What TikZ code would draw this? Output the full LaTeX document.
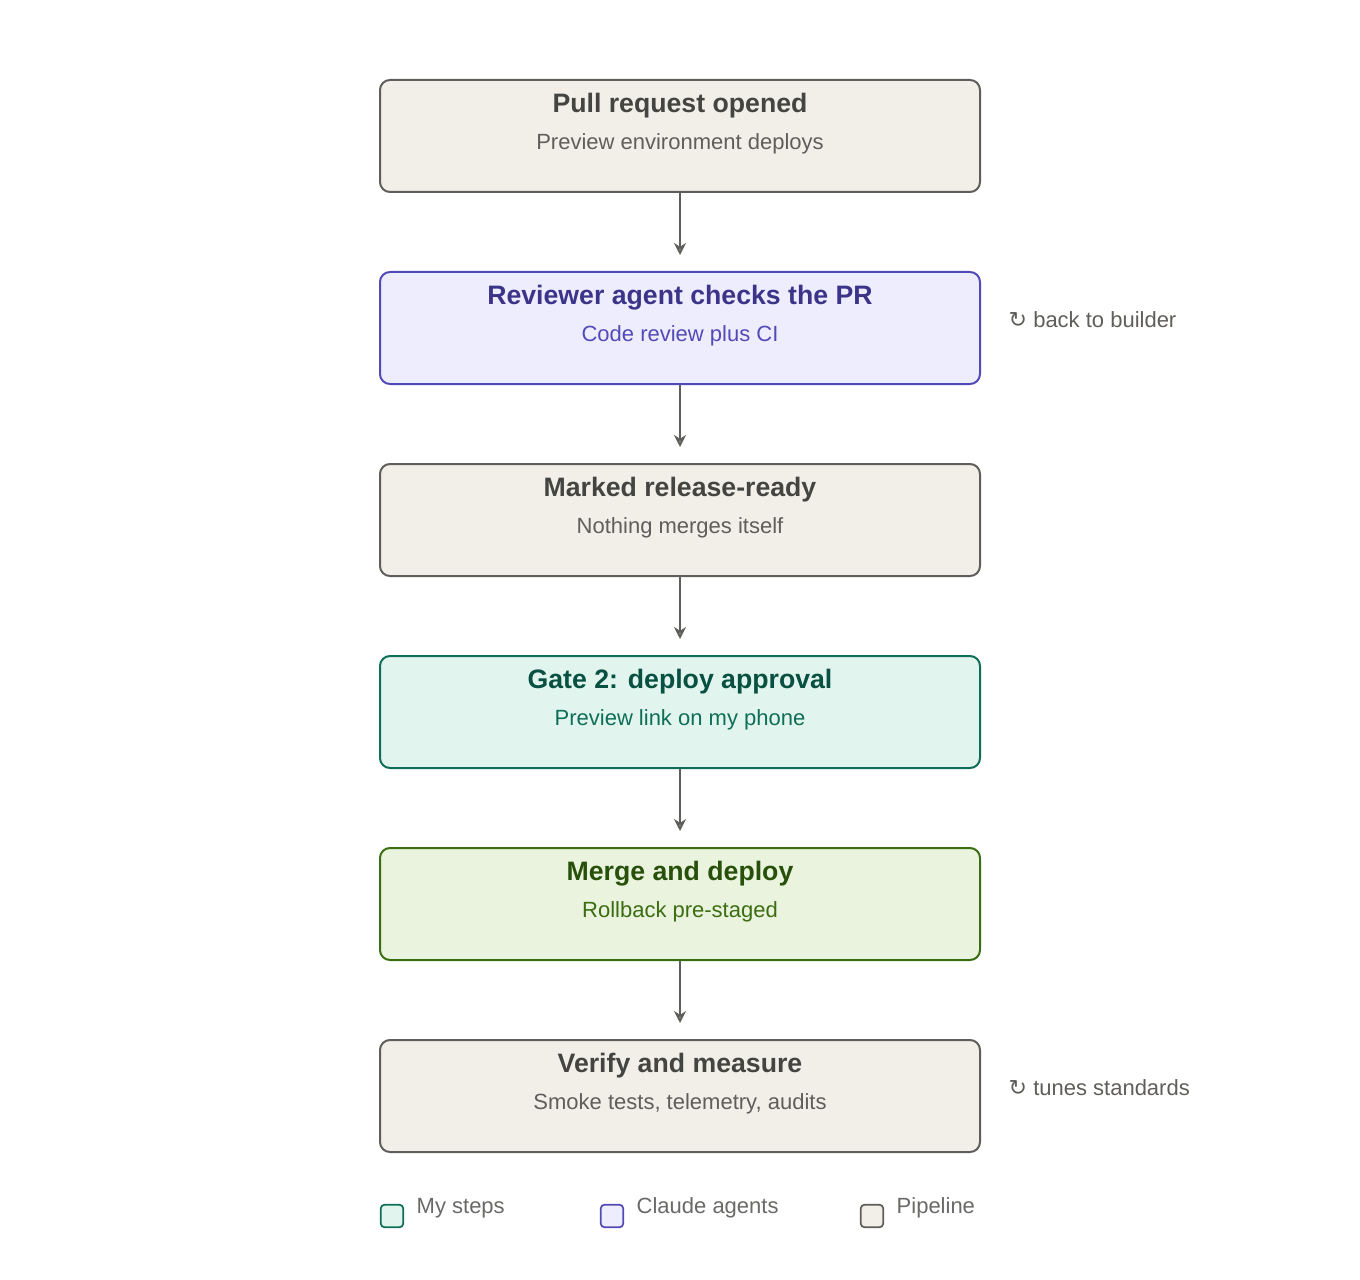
\documentclass[tikz,border=0pt]{standalone}
\usepackage{fontspec}
\setmainfont{Liberation Sans}
\newfontfamily\dej{DejaVu Sans}
\usetikzlibrary{arrows.meta}
\definecolor{pfill}{HTML}{F1EFE8}\definecolor{pline}{HTML}{5F5E5A}\definecolor{ptitle}{HTML}{444441}
\definecolor{vfill}{HTML}{EEEDFE}\definecolor{vline}{HTML}{534AB7}\definecolor{vtitle}{HTML}{3C3489}
\definecolor{tfill}{HTML}{E1F5EE}\definecolor{tline}{HTML}{0F6E56}\definecolor{ttitle}{HTML}{085041}
\definecolor{gfill}{HTML}{EAF3DE}\definecolor{gline}{HTML}{3B6D11}\definecolor{gtitle}{HTML}{27500A}
\begin{document}
\begin{tikzpicture}[x=0.75pt,y=-0.75pt,
  box/.style={draw=#1line,fill=#1fill,line width=1.5pt,rounded corners=7.5pt,minimum width=450pt,minimum height=84pt},
  ttl/.style={font=\fontsize{20}{24}\selectfont\bfseries,text=#1},
  sub/.style={font=\fontsize{16.5}{20}\selectfont,text=#1},
  arr/.style={draw=pline,line width=1.5pt,-{Stealth[length=9pt,width=9pt,open,fill=none]},shorten >=12pt},
  note/.style={font=\fontsize{16.5}{20}\selectfont,text=pline,anchor=west},
  leg/.style={draw=#1line,fill=#1fill,line width=1.3pt,rounded corners=3pt,minimum size=17pt,inner sep=0pt}]
\useasboundingbox (0,0) rectangle (1360,1280);
\foreach \n/\y/\c/\t/\s in {a/136/p/Pull request opened/Preview environment deploys,
  b/328/v/Reviewer agent checks the PR/Code review plus CI,
  c/520/p/Marked release-ready/Nothing merges itself,
  d/712/t/Gate 2: deploy approval/Preview link on my phone,
  e/904/g/Merge and deploy/Rollback pre-staged,
  f/1096/p/Verify and measure/{Smoke tests, telemetry, audits}}{
  \node[box=\c] (\n) at (680,\y) {};
  \node[ttl=\c title] (\n t) at (680,\y-30) {\t};
  \node[sub=\c line] (\n s) at (680,\y+8) {\s};
}
\foreach \u/\v in {a/b,b/c,c/d,d/e,e/f} \draw[arr] (\u.south) -- (\v.north);
\node[note] (n1) at (1004,320) {{\dej ↻} back to builder};
\node[note] (n2) at (1004,1088) {{\dej ↻} tunes standards};
\node[leg=t] (l1) at (392,1216) {};
\node[note,text=ptitle!80] (l1t) at (412,1208) {My steps};
\node[leg=v] (l2) at (612,1216) {};
\node[note,text=ptitle!80] (l2t) at (632,1208) {Claude agents};
\node[leg=p] (l3) at (872,1216) {};
\node[note,text=ptitle!80] (l3t) at (892,1208) {Pipeline};
\end{tikzpicture}
\end{document}
